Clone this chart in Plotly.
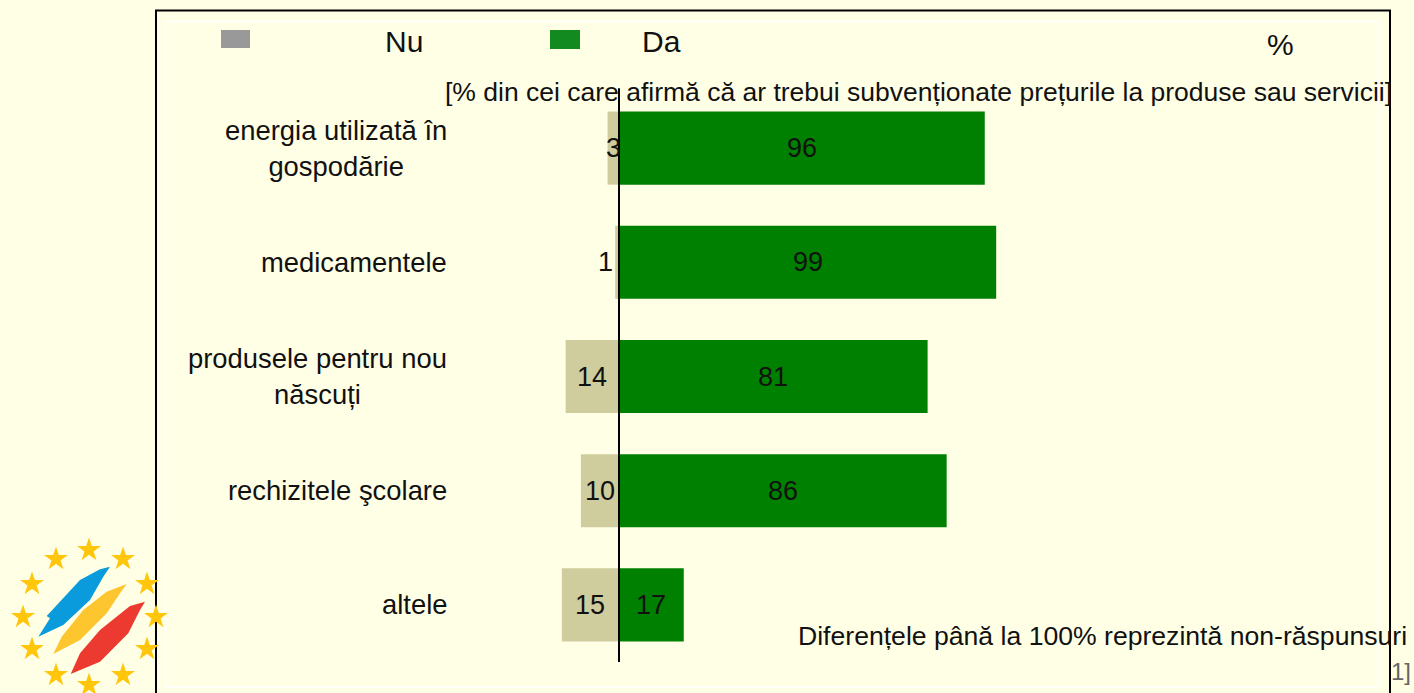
import plotly.graph_objects as go

categories = ["energia utilizată în<br>gospodărie", "medicamentele", "produsele pentru nou<br>născuți", "rechizitele şcolare", "altele"]
nu_values = [3, 1, 14, 10, 15]
da_values = [96, 99, 81, 86, 17]
series_names = ["Nu", "Da"]
subtitle = "[% din cei care afirmă că ar trebui subvenționate prețurile la produse sau servicii]"
footnote = "Diferențele până la 100% reprezintă non-răspunsuri"

BG = "#FFFFE6"
FONT = "Liberation Sans"
W, H = 1414, 693
PX_PER_UNIT = 3.81
ZERO_PX = 619
L, R, T, B = 160, 1390, 91, 662

fig = go.Figure()
fig.add_trace(go.Bar(y=categories, x=[-v for v in nu_values], orientation="h", name="Nu",
                     marker=dict(color="#CFCC9E", line_width=0), width=0.64, showlegend=False))
fig.add_trace(go.Bar(y=categories, x=da_values, orientation="h", name="Da",
                     marker=dict(color="#008000", line_width=0), width=0.64, showlegend=False))

# logo on a full-page overlay
star_x = [89, 123, 56, 32, 147, 23, 156, 32, 147, 56, 123, 89]
star_y = [550, 559, 559, 584, 584, 617, 617, 649, 649, 675, 675, 685]
fig.add_trace(go.Scatter(x=star_x, y=star_y, xaxis="x2", yaxis="y2", mode="markers",
                         marker=dict(symbol="star", size=18, color="#FFC60B", line_width=0),
                         showlegend=False, hoverinfo="skip", cliponaxis=False))

def poly(points, color):
    d = "M " + " L ".join(f"{x / 3:.1f},{y / 3 + 530:.1f}" for x, y in points) + " Z"
    return dict(type="path", path=d, xref="x2", yref="y2", fillcolor=color, line=dict(color=color, width=0), layer="above")

shapes = [
    dict(type="rect", xref="x2", yref="y2", x0=165.5, x1=1378, y0=21.5, y1=687, line=dict(color="#FFFFFF", width=1.5), layer="below"),
    dict(type="rect", xref="x2", yref="y2", x0=156, x1=1390, y0=10.5, y1=720, line=dict(color="#000000", width=2), layer="below"),
    dict(type="rect", xref="x2", yref="y2", x0=221, x1=250, y0=30, y1=48, fillcolor="#999999", line_width=0),
    dict(type="rect", xref="x2", yref="y2", x0=550, x1=580, y0=30, y1=49, fillcolor="#128A20", line_width=0),
    dict(type="line", xref="x", yref="y domain", x0=0, x1=0, y0=0, y1=1.005, line=dict(color="#000000", width=2), layer="above"),
    poly([(330, 110), (300, 118), (240, 150), (140, 258), (150, 265), (115, 320), (190, 285), (270, 210), (310, 140)], "#0A9BDC"),
    poly([(380, 162), (320, 185), (250, 240), (185, 320), (160, 372), (240, 330), (320, 250), (360, 190)], "#FDC52E"),
    poly([(435, 215), (390, 228), (300, 300), (240, 370), (212, 432), (300, 395), (385, 310), (420, 240)], "#EC3A30"),
]

def note(x, y, text, size=27, anchor="center", color="#111111"):
    return dict(x=x, y=y, xref="x2", yref="y2", text=text, showarrow=False, xanchor=anchor, yanchor="middle",
                font=dict(family=FONT, size=size, color=color))

annotations = [
    note(404, 41, series_names[0], 30),
    note(661, 41, series_names[1], 30),
    note(1280, 44, "%", 30),
    note(918, 92, subtitle, 26.5),
    note(1102, 636, footnote, 26.6),
    note(1401, 671, "1]", 24, color="#666666"),
]
for c, nu, da in zip(categories, nu_values, da_values):
    annotations.append(dict(x=449, y=c, xref="x2", yref="y", text=c, showarrow=False, xanchor="right", yanchor="middle",
                            align="center", font=dict(family=FONT, size=27.4, color="#111111")))
    small = nu < 2
    annotations.append(dict(x=-nu if small else -nu / 2, y=c, xref="x", yref="y", text=str(nu), showarrow=False,
                            xanchor="right" if small else "center", yanchor="middle",
                            font=dict(family=FONT, size=27, color="#111111")))
    annotations.append(dict(x=da / 2, y=c, xref="x", yref="y", text=str(da), showarrow=False,
                            xanchor="center", yanchor="middle",
                            font=dict(family=FONT, size=27, color="#111111")))

fig.update_layout(
    width=W, height=H, autosize=False, margin=dict(l=0, r=0, t=0, b=0),
    paper_bgcolor=BG, plot_bgcolor="rgba(0,0,0,0)", barmode="relative", showlegend=False,
    xaxis=dict(domain=[L / W, R / W], range=[(L - ZERO_PX) / PX_PER_UNIT, (R - ZERO_PX) / PX_PER_UNIT],
               visible=False, fixedrange=True),
    yaxis=dict(domain=[(H - B) / H, (H - T) / H], autorange="reversed", type="category",
               categoryorder="array", categoryarray=categories, visible=False, fixedrange=True),
    xaxis2=dict(domain=[0, 1], range=[0, W], visible=False, anchor="y2", fixedrange=True),
    yaxis2=dict(domain=[0, 1], range=[H, 0], visible=False, anchor="x2", fixedrange=True),
    shapes=shapes, annotations=annotations,
)
fig.write_html("out.html", config=dict(displayModeBar=False),
               post_script="document.body.style.margin='0';document.body.style.overflow='hidden';document.body.style.background='#FFFFE6';")
